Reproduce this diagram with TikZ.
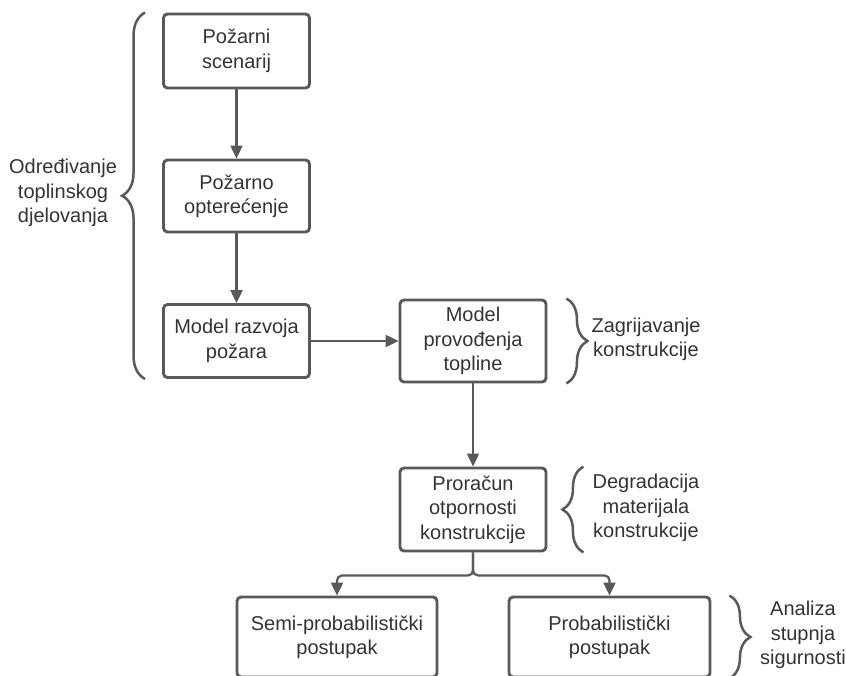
\documentclass[tikz,border=0pt]{standalone}
\usepackage{fontspec}
\setmainfont{Liberation Sans}
\usetikzlibrary{arrows.meta,decorations.pathreplacing}
\tikzset{>={Triangle[length=13pt,width=12pt]}}
\definecolor{linegray}{HTML}{595959}
\definecolor{textgray}{HTML}{333333}
\tikzset{
  blok/.style={draw=linegray,line width=2.9pt,rounded corners=4pt,align=center,text=textgray,minimum width=146pt,inner sep=0pt,font=\fontsize{20}{24.4}\selectfont},
  strel/.style={->,draw=linegray,line width=2.2pt},
  zagrada/.style={decorate,decoration={brace,amplitude=#1},draw=linegray,line width=2.5pt},
  zagrada/.default=21pt,
  opis/.style={align=center,text=textgray,inner sep=0pt,font=\fontsize{20}{24.4}\selectfont}
}

\begin{document}
\begin{tikzpicture}[x=1pt,y=1pt]
\useasboundingbox (0,0) rectangle (846,675);
\clip (0,0) rectangle (846,675);
\node[blok,minimum height=74pt] (scen) at (236.5,624) {Požarni\\scenarij};
\node[blok,minimum height=72pt] (opt) at (236.5,479) {Požarno\\opterećenje};
\node[blok,minimum height=73pt] (razvoj) at (236.5,334) {Model razvoja\\požara};
\node[blok,minimum height=82pt] (provod) at (473,334) {Model\\provođenja\\topline};
\node[blok,minimum height=83pt] (otpor) at (473,165.5) {Proračun\\otpornosti\\konstrukcije};
\node[blok,minimum width=200pt,minimum height=80pt] (semi) at (337,38) {Semi-probabilistički\\postupak};
\node[blok,minimum width=201pt,minimum height=80pt] (prob) at (609.5,38) {Probabilistički\\postupak};
\draw[strel] (scen) -- (opt);
\draw[strel] (opt) -- (razvoj);
\draw[strel] (razvoj) -- (provod);
\draw[strel] (provod) -- (otpor);
\draw[strel,rounded corners=5pt] (otpor.south) -- ++(0,-23) -| (semi.north);
\draw[strel,rounded corners=5pt] (otpor.south) -- ++(0,-23) -| (prob.north);
\draw[zagrada=23pt] ([xshift=-17pt]razvoj.south west) -- ([xshift=-17pt]scen.north west);
\draw[zagrada] ([xshift=19pt]provod.north east) -- ([xshift=19pt]provod.south east);
\draw[zagrada] ([xshift=36pt]otpor.south east) -- ([xshift=36pt]otpor.north east);
\draw[zagrada] ([xshift=18pt]prob.north east) -- ([xshift=18pt]prob.south east);
\node[opis] (odred) at (63,482) {Određivanje\\toplinskog\\djelovanja};
\node[opis] (zagr) at (646,335.5) {Zagrijavanje\\konstrukcije};
\node[opis] (degr) at (646,167) {Degradacija\\materijala\\konstrukcije};
\node[opis] (anal) at (803,40) {Analiza\\stupnja\\sigurnosti};
\end{tikzpicture}
\end{document}
